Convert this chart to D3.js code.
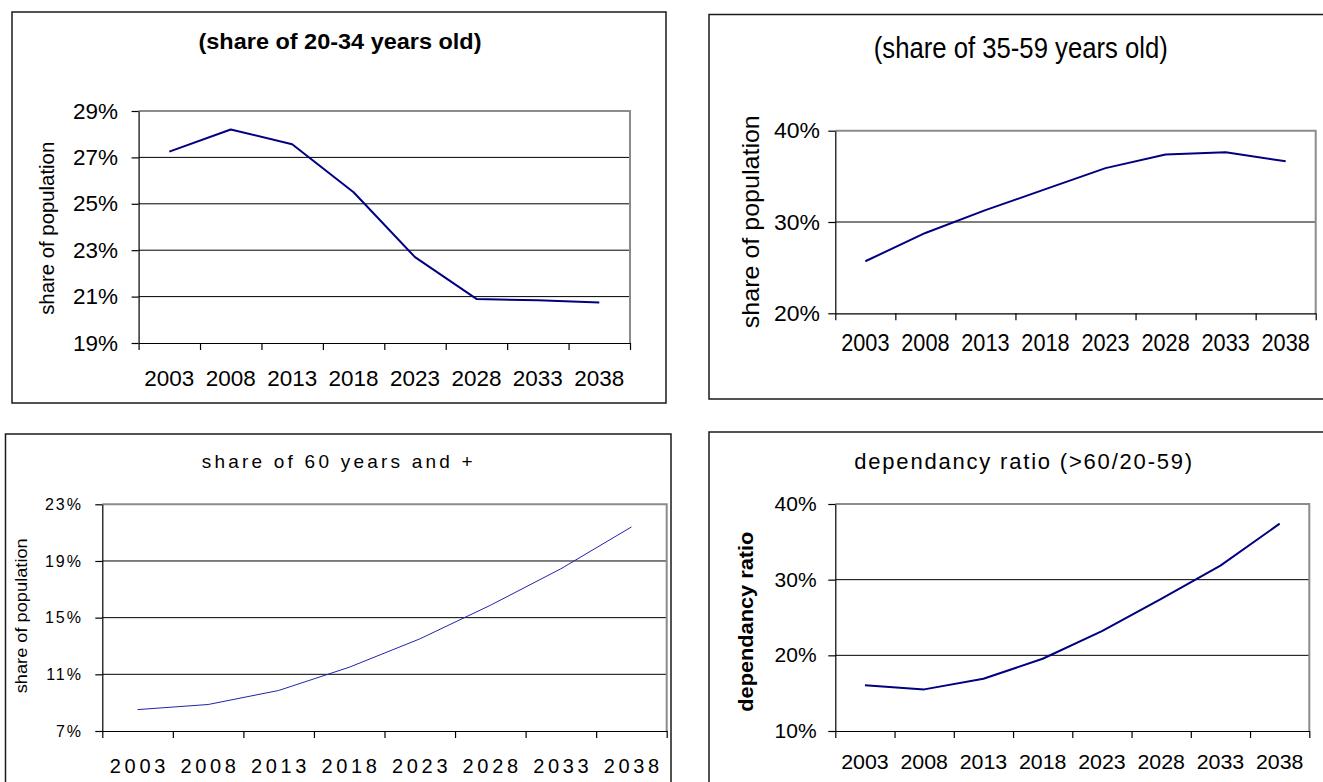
<!DOCTYPE html>
<html>
<head>
<meta charset="utf-8">
<script src="https://cdn.jsdelivr.net/npm/d3@7"></script>
<style>
  html, body { margin: 0; padding: 0; background: #fff; }
  svg { display: block; }
  text { font-family: "Liberation Sans", Arial, Helvetica, sans-serif; fill: #000; }
</style>
</head>
<body>
<svg id="chart" width="1323" height="782"></svg>
<script>
// Projection years shared by all four panels
const years = ["2003", "2008", "2013", "2018", "2023", "2028", "2033", "2038"];

// Series values (percent)
const share20to34 = [27.25, 28.2, 27.57, 25.5, 22.7, 20.9, 20.84, 20.75];
const share35to59 = [25.7, 28.8, 31.3, 33.6, 35.9, 37.4, 37.65, 36.65];
const share60plus = [8.51, 8.87, 9.86, 11.5, 13.5, 15.87, 18.45, 21.4];
const dependencyRatio = [16.05, 15.5, 16.9, 19.55, 23.2, 27.45, 31.85, 37.4];

// Value-axis tick values (percent)
const ticks20to34 = [19, 21, 23, 25, 27, 29];
const ticks35to59 = [20, 30, 40];
const ticks60plus = [7, 11, 15, 19, 23];
const ticksDependency = [10, 20, 30, 40];

// Panel texts
const title20to34 = "(share of 20-34 years old)";
const title35to59 = "(share of 35-59 years old)";
const title60plus = "share of 60 years and +";
const titleDependency = "dependancy ratio (>60/20-59)";
const axisShare = "share of population";
const axisDependency = "dependancy ratio";

const svg = d3.select("#chart");

// Layout and styling of each panel
const panels = [
  {
    values: share20to34, ticks: ticks20to34, title: title20to34, yTitle: axisShare,
    box: [12, 12, 666, 403],
    plot: { l: 138.6, r: 630, t: 111, b: 343 },
    titleStyle: { x: 340, y: 49, size: 22, weight: "bold", len: 283, adjust: "spacingAndGlyphs" },
    yTitleStyle: { x: 47, y: 228.3, size: 20, weight: "normal", len: 173 },
    yTickStyle: { size: 22, right: 118, len: 45, adjust: "spacingAndGlyphs" },
    xTickStyle: { size: 22, baseline: 385.5, len: 50, adjust: "spacingAndGlyphs" },
    line: { color: "#000080", width: 2 }
  },
  {
    values: share35to59, ticks: ticks35to59, title: title35to59, yTitle: axisShare,
    box: [709, 14.5, 1340, 399],
    plot: { l: 835.3, r: 1315.7, t: 130.7, b: 313.3 },
    titleStyle: { x: 1020.8, y: 58, size: 29, weight: "normal", len: 294, adjust: "spacingAndGlyphs" },
    yTitleStyle: { x: 750, y: 221.7, size: 24, weight: "normal", len: 213 },
    yTickStyle: { size: 22, right: 820, len: 46, adjust: "spacingAndGlyphs" },
    xTickStyle: { size: 24, baseline: 351, len: 48.3, adjust: "spacingAndGlyphs" },
    line: { color: "#000080", width: 2 }
  },
  {
    values: share60plus, ticks: ticks60plus, title: title60plus, yTitle: axisShare,
    box: [5.5, 434, 671, 800],
    plot: { l: 102.3, r: 666.7, t: 504.3, b: 731 },
    titleStyle: { x: 337.2, y: 468.3, size: 19, weight: "normal", len: 271, adjust: "spacing" },
    yTitleStyle: { x: 21.7, y: 615.8, size: 17, weight: "normal", len: 155 },
    yTickStyle: { size: 16, right: 83, spacing: 2 },
    xTickStyle: { size: 20, baseline: 772.5, len: 55.5, adjust: "spacing" },
    line: { color: "#2424a8", width: 1 }
  },
  {
    values: dependencyRatio, ticks: ticksDependency, title: titleDependency, yTitle: axisDependency,
    box: [709, 432, 1340, 800],
    plot: { l: 835.3, r: 1309.3, t: 504, b: 731 },
    titleStyle: { x: 1023.2, y: 468.5, size: 22, weight: "normal", len: 338, adjust: "spacing" },
    yTitleStyle: { x: 746.3, y: 621.7, size: 20, weight: "bold", len: 180 },
    yTickStyle: { size: 20, right: 816.6, len: 42, adjust: "spacingAndGlyphs" },
    xTickStyle: { size: 20, baseline: 768.5, len: 47.5, adjust: "spacingAndGlyphs" },
    line: { color: "#000080", width: 2 }
  }
];

const TICK = 7;

panels.forEach(p => {
  const g = svg.append("g");
  const { l, r, t, b } = p.plot;

  // Outer chart frame
  g.append("rect")
    .attr("x", p.box[0]).attr("y", p.box[1])
    .attr("width", p.box[2] - p.box[0]).attr("height", p.box[3] - p.box[1])
    .attr("fill", "none").attr("stroke", "#1a1a1a").attr("stroke-width", 1.5);

  const x = d3.scaleBand().domain(years).range([l, r]).padding(0);
  const xEdges = d3.scaleLinear().domain([0, years.length]).range([l, r]);
  const y = d3.scaleLinear().domain(d3.extent(p.ticks)).range([b, t]);

  // Horizontal gridlines
  g.append("g").selectAll("line")
    .data(p.ticks.slice(1, -1))
    .join("line")
    .attr("x1", l).attr("x2", r)
    .attr("y1", d => y(d)).attr("y2", d => y(d))
    .attr("stroke", "#000").attr("stroke-width", 1);

  // Plot-area border (top and right)
  g.append("path")
    .attr("d", `M${l},${y(d3.max(p.ticks))}H${r}V${b}`)
    .attr("fill", "none").attr("stroke", "#8c8c8c").attr("stroke-width", 2);

  // Category axis: tick marks between categories, labels centred under them
  g.append("g")
    .attr("transform", `translate(0,${b})`)
    .call(d3.axisBottom(xEdges).tickValues(d3.range(years.length + 1)).tickSize(TICK).tickSizeOuter(0).tickFormat(""))
    .call(a => a.selectAll("path,line").attr("stroke", "#000").attr("stroke-width", 1.2));

  const xl = g.append("g")
    .attr("transform", `translate(0,${b})`)
    .call(d3.axisBottom(x).tickSize(0).tickSizeOuter(0));
  xl.select(".domain").remove();
  xl.selectAll("text")
    .attr("y", p.xTickStyle.baseline - b).attr("dy", null)
    .attr("font-family", null)
    .style("font-size", p.xTickStyle.size + "px")
    .attr("textLength", p.xTickStyle.len)
    .attr("lengthAdjust", p.xTickStyle.adjust);

  // Value axis
  const yl = g.append("g")
    .attr("transform", `translate(${l},0)`)
    .call(d3.axisLeft(y).tickValues(p.ticks).tickSize(TICK).tickSizeOuter(0)
      .tickPadding(l - TICK - p.yTickStyle.right)
      .tickFormat(d => d + "%"));
  yl.selectAll("path,line").attr("stroke", "#000").attr("stroke-width", 1.2);
  const yt = yl.selectAll("text")
    .attr("font-family", null)
    .style("font-size", p.yTickStyle.size + "px");
  if (p.yTickStyle.len) {
    yt.attr("textLength", p.yTickStyle.len).attr("lengthAdjust", p.yTickStyle.adjust);
  }
  if (p.yTickStyle.spacing) {
    yt.style("letter-spacing", p.yTickStyle.spacing + "px");
  }

  // Series line
  g.append("path")
    .datum(p.values)
    .attr("d", d3.line().x((d, i) => x(years[i]) + x.bandwidth() / 2).y(d => y(d)))
    .attr("fill", "none")
    .attr("stroke", p.line.color)
    .attr("stroke-width", p.line.width)
    .attr("stroke-linejoin", "round");

  // Panel title
  g.append("text")
    .attr("x", p.titleStyle.x).attr("y", p.titleStyle.y)
    .attr("text-anchor", "middle")
    .style("font-size", p.titleStyle.size + "px")
    .style("font-weight", p.titleStyle.weight)
    .attr("textLength", p.titleStyle.len)
    .attr("lengthAdjust", p.titleStyle.adjust)
    .text(p.title);

  // Value-axis title
  g.append("text")
    .attr("transform", `translate(${p.yTitleStyle.x},${p.yTitleStyle.y}) rotate(-90)`)
    .attr("text-anchor", "middle")
    .attr("dominant-baseline", "central")
    .style("font-size", p.yTitleStyle.size + "px")
    .style("font-weight", p.yTitleStyle.weight)
    .attr("textLength", p.yTitleStyle.len)
    .attr("lengthAdjust", "spacingAndGlyphs")
    .text(p.yTitle);
});
</script>
</body>
</html>
